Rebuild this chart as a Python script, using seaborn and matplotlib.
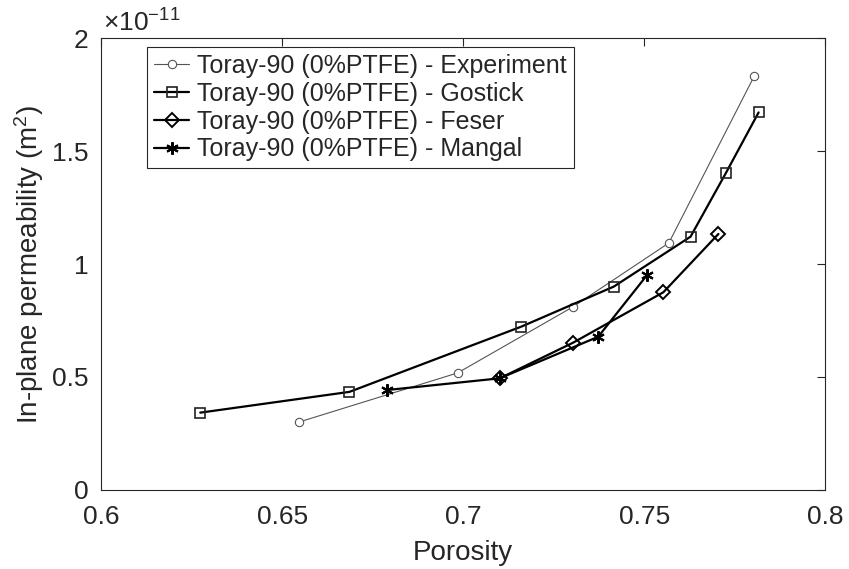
import matplotlib
matplotlib.use("Agg")
import matplotlib.pyplot as plt
import seaborn as sns
import pandas as pd
from matplotlib.ticker import FuncFormatter

sns.set_style("white")
plt.rcParams['font.family'] = ['Liberation Sans', 'DejaVu Sans']
plt.rcParams['mathtext.fontset'] = 'custom'
plt.rcParams['mathtext.rm'] = 'Liberation Sans'
plt.rcParams['mathtext.it'] = 'Liberation Sans'
plt.rcParams['axes.unicode_minus'] = False

exp_x = [0.6548, 0.6985, 0.7303, 0.7568, 0.7804]
exp_y = [0.301, 0.518, 0.810, 1.093, 1.832]

gos_x = [0.6274, 0.6686, 0.7161, 0.7416, 0.7628, 0.7725, 0.7816]
gos_y = [0.342, 0.434, 0.723, 0.900, 1.121, 1.401, 1.671]

fes_x = [0.7101, 0.7304, 0.7553, 0.7705]
fes_y = [0.494, 0.652, 0.875, 1.133]

man_x = [0.6789, 0.7101, 0.7373, 0.7508]
man_y = [0.442, 0.494, 0.678, 0.951]

labels = ["Toray-90 (0%PTFE) - Experiment",
          "Toray-90 (0%PTFE) - Gostick",
          "Toray-90 (0%PTFE) - Feser",
          "Toray-90 (0%PTFE) - Mangal"]

fig = plt.figure(figsize=(8.49, 5.69), dpi=100)
ax = fig.add_axes([0.119, 0.139, 0.853, 0.794])

styles = [
    (exp_x, exp_y, labels[0], dict(color='#555555', lw=0.8, marker='o', ms=6, mfc='white', mec='#555555', mew=0.8)),
    (gos_x, gos_y, labels[1], dict(color='black', lw=1.6, marker='s', ms=7, mfc='none', mec='#222222', mew=1.2)),
    (fes_x, fes_y, labels[2], dict(color='black', lw=1.6, marker='D', ms=7, mfc='none', mec='black', mew=1.4)),
    (man_x, man_y, labels[3], dict(color='black', lw=1.6, marker=(6, 2, 0), ms=9, mfc='none', mec='black', mew=1.5)),
]
for xs, ys, lab, kw in styles:
    df = pd.DataFrame({'x': xs, 'y': ys})
    sns.lineplot(data=df, x='x', y='y', ax=ax, sort=False, label=lab, **kw)

ax.set_xlim(0.6, 0.8)
ax.set_ylim(0, 2)
ax.set_xticks([0.6, 0.65, 0.7, 0.75, 0.8])
ax.set_yticks([0, 0.5, 1, 1.5, 2])
fmt = FuncFormatter(lambda v, p: ('%g' % v))
ax.xaxis.set_major_formatter(fmt)
ax.yaxis.set_major_formatter(fmt)
ax.tick_params(direction='in', length=6, width=0.8, colors='#262626', labelsize=19,
               top=True, right=True, labelcolor='#262626')
ax.tick_params(axis='x', pad=11)
ax.tick_params(axis='y', pad=9)
for s in ax.spines.values():
    s.set_color('#262626')
    s.set_linewidth(0.8)
ax.set_xlabel('Porosity', fontsize=20, color='#262626')
ax.xaxis.set_label_coords(0.5, -0.11)
ax.set_ylabel('In-plane permeability (m$^2$)', fontsize=20, color='#262626')
ax.yaxis.set_label_coords(-0.076, 0.5)
ax.text(0.003, 1.004, r'$\times$10$^{-11}$', transform=ax.transAxes, fontsize=19,
        color='#262626', ha='left', va='bottom')

leg = ax.legend(loc='upper left', bbox_to_anchor=(0.064, 0.98), fontsize=18,
                frameon=True, fancybox=False, edgecolor='#262626', framealpha=1,
                handlelength=1.4, handletextpad=0.3, borderpad=0.28, labelspacing=0.15,
                borderaxespad=0)
leg.get_frame().set_linewidth(0.8)

fig.savefig('out.png', dpi=100)
